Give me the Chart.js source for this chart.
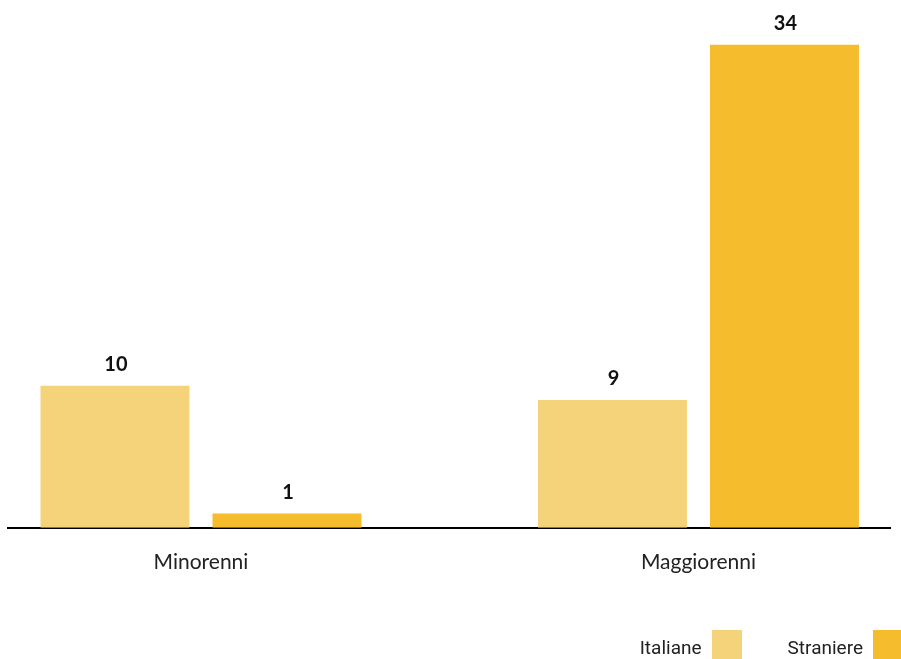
<!DOCTYPE html>
<html lang="it">
<head>
<meta charset="utf-8">
<title>Minorenni e maggiorenni</title>
<script src="https://cdn.jsdelivr.net/npm/chart.js@4/dist/chart.umd.min.js"></script>
<style>
  html, body { margin: 0; padding: 0; background: #fff; }
  #wrap { position: relative; width: 901px; height: 659px; overflow: hidden; }
  #grafico { display: block; }
  #legenda { position: absolute; right: -2px; top: 630px; display: flex; font-family: Roboto, sans-serif; font-size: 19px; color: #222; }
  #legenda .voce { display: flex; align-items: flex-start; margin-left: 46px; }
  #legenda .voce span.testo { padding-top: 6px; }
  #legenda .box { width: 30px; height: 29px; margin-left: 10px; }
</style>
</head>
<body>
<div id="wrap">
  <canvas id="grafico" width="901" height="659"></canvas>
  <div id="legenda"></div>
</div>
<script>
/* categorie e serie */
const categorie = ['Minorenni', 'Maggiorenni'];
const italiane = [10, 9];
const straniere = [1, 34];
const serieNomi = ['Italiane', 'Straniere'];
const serieColori = ['#f5d37a', '#f5bc2e'];

(function () {
  'use strict';

  const canvas = document.getElementById('grafico');

  /* valori sopra le barre */
  const etichette = {
    id: 'etichette',
    afterDatasetsDraw: function (chart) {
      const ctx = chart.ctx;
      ctx.save();
      ctx.fillStyle = '#111';
      ctx.font = 'bold 20px Lato, sans-serif';
      ctx.textAlign = 'center';
      ctx.textBaseline = 'alphabetic';
      chart.data.datasets.forEach(function (ds, i) {
        chart.getDatasetMeta(i).data.forEach(function (bar, j) {
          ctx.fillText(String(ds.data[j].y), bar.x + 1, bar.y - 15);
        });
      });
      ctx.restore();
    }
  };

  const serie = [italiane, straniere];

  new Chart(canvas, {
    type: 'bar',
    data: {
      datasets: serie.map(function (vals, i) {
        return {
          label: serieNomi[i],
          data: vals.map(function (v, j) { return { x: j, y: v }; }),
          backgroundColor: serieColori[i],
          categoryPercentage: 0.6915,
          barPercentage: 0.866
        };
      })
    },
    options: {
      responsive: false,
      animation: false,
      layout: { padding: { left: 8, right: 11, top: 2, bottom: 62 } },
      plugins: {
        legend: { display: false },
        tooltip: { enabled: false }
      },
      scales: {
        x: {
          type: 'linear',
          offset: false,
          min: -0.3879,
          max: 1.385,
          afterBuildTicks: function (scale) {
            scale.ticks = categorie.map(function (c, i) { return { value: i }; });
          },
          grid: { display: false, drawTicks: false },
          border: { display: true, color: '#000', width: 2 },
          ticks: {
            padding: 22,
            color: '#222',
            font: { size: 21, family: 'Lato, sans-serif' },
            maxRotation: 0,
            callback: function (v) { return categorie[v]; }
          }
        },
        y: {
          display: false,
          min: 0,
          max: 37
        }
      }
    },
    plugins: [etichette]
  });

  /* legenda */
  const legenda = document.getElementById('legenda');
  serieNomi.forEach(function (nome, i) {
    const voce = document.createElement('div');
    voce.className = 'voce';
    voce.innerHTML = '<span class="testo">' + nome + '</span><span class="box" style="background:' + serieColori[i] + '"></span>';
    legenda.appendChild(voce);
  });
})();
</script>
</body>
</html>
